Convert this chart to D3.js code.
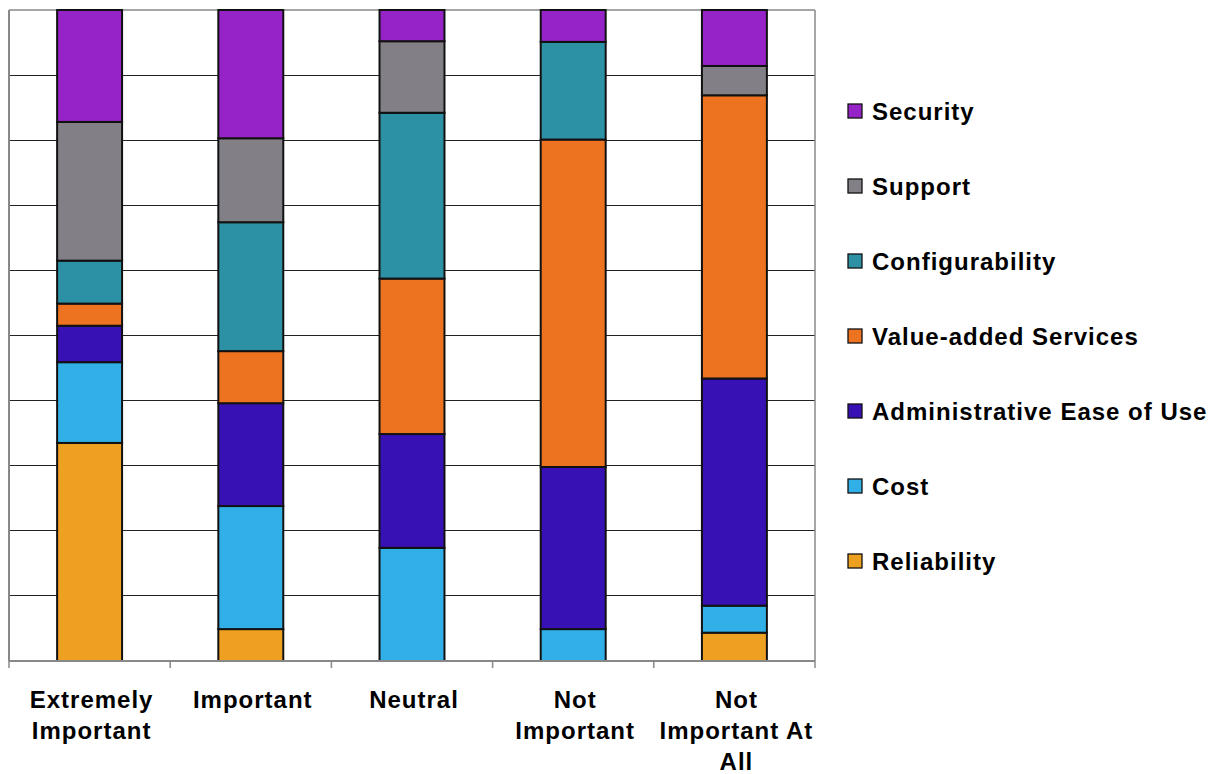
<!DOCTYPE html>
<html>
<head>
<meta charset="utf-8">
<script src="https://cdn.jsdelivr.net/npm/d3@7"></script>
<style>
  html, body { margin: 0; padding: 0; background: #fff; }
  svg { display: block; }
  text { font-family: "Liberation Sans", Arial, sans-serif; font-weight: bold; fill: #000; }
</style>
</head>
<body>
<svg id="chart" width="1219" height="774"></svg>
<script>
// ---- data ----
const categories = ["Extremely Important", "Important", "Neutral", "Not Important", "Not Important At All"];
const categoryLines = [["Extremely", "Important"], ["Important"], ["Neutral"], ["Not", "Important"], ["Not", "Important At", "All"]];
const seriesNames = ["Reliability", "Cost", "Administrative Ease of Use", "Value-added Services", "Configurability", "Support", "Security"];
const seriesColors = ["#EEA020", "#31B0E8", "#3711B3", "#EE7320", "#2C91A4", "#828086", "#9523C8"];
const reliability    = [33.5, 4.9, 0, 0, 4.35];
const cost           = [12.4, 18.9, 17.4, 4.9, 4.15];
const adminEase      = [5.6, 15.8, 17.5, 24.9, 34.9];
const valueAdded     = [3.4, 8.0, 23.9, 50.3, 43.5];
const configurability= [6.6, 19.8, 25.5, 15.0, 0];
const support        = [21.3, 12.9, 11.0, 0, 4.5];
const security       = [17.2, 19.7, 4.8, 4.9, 8.6];
const yTicks = [0, 0.1, 0.2, 0.3, 0.4, 0.5, 0.6, 0.7, 0.8, 0.9, 1.0];

const seriesValues = [reliability, cost, adminEase, valueAdded, configurability, support, security];
const rows = categories.map((c, i) => {
  const r = { category: c };
  seriesNames.forEach((s, j) => r[s] = seriesValues[j][i]);
  return r;
});

// ---- layout ----
const svg = d3.select("#chart");
const plot = { left: 9, right: 815, top: 10, bottom: 661 };

const x = d3.scaleBand().domain(categories).range([plot.left, plot.right]).padding(0);
const y = d3.scaleLinear().domain([0, 1]).range([plot.bottom, plot.top]);
const color = d3.scaleOrdinal().domain(seriesNames).range(seriesColors);

const stack = d3.stack().keys(seriesNames).offset(d3.stackOffsetExpand);
const stacked = stack(rows);

// gridlines
svg.append("g").selectAll("line").data(yTicks.filter(t => t > 0 && t < 1)).join("line")
  .attr("x1", plot.left).attr("x2", plot.right)
  .attr("y1", d => y(d)).attr("y2", d => y(d))
  .attr("stroke", "#222").attr("stroke-width", 1).attr("shape-rendering", "crispEdges");

// frame (top, right)
svg.append("line").attr("x1", plot.left).attr("x2", plot.right).attr("y1", y(1)).attr("y2", y(1))
  .attr("stroke", "#888").attr("stroke-width", 1.5);
svg.append("line").attr("x1", plot.right).attr("x2", plot.right).attr("y1", y(1)).attr("y2", y(0))
  .attr("stroke", "#888").attr("stroke-width", 1.5);

// bars
const barW = x.bandwidth() * 0.403;
svg.append("g").selectAll("g").data(stacked).join("g")
  .attr("fill", d => color(d.key))
  .selectAll("rect").data(d => d.filter(p => p[1] - p[0] > 0)).join("rect")
  .attr("x", d => x(d.data.category) + x.bandwidth() / 2 - barW / 2)
  .attr("width", barW)
  .attr("y", d => y(d[1]))
  .attr("height", d => y(d[0]) - y(d[1]))
  .attr("stroke", "#111").attr("stroke-width", 2);

// left axis
svg.append("line").attr("x1", plot.left).attr("x2", plot.left).attr("y1", y(1)).attr("y2", y(0))
  .attr("stroke", "#888").attr("stroke-width", 2);

// bottom axis with ticks at band boundaries
const xAxis = svg.append("g");
xAxis.append("line").attr("x1", plot.left).attr("x2", plot.right).attr("y1", y(0)).attr("y2", y(0))
  .attr("stroke", "#888").attr("stroke-width", 2);
const boundaries = categories.map(c => x(c)).concat([x(categories[categories.length - 1]) + x.bandwidth()]);
xAxis.selectAll("line.tick").data(boundaries).join("line").attr("class", "tick")
  .attr("x1", d => d).attr("x2", d => d).attr("y1", y(0)).attr("y2", y(0) + 7)
  .attr("stroke", "#888").attr("stroke-width", 1.5);

// category labels
const labels = svg.append("g");
categories.forEach((c, i) => {
  const cx = x(c) + x.bandwidth() / 2 + 2;
  const t = labels.append("text")
    .attr("text-anchor", "middle")
    .attr("font-size", 24)
    .attr("letter-spacing", 1.0)
    .attr("x", cx)
    .attr("y", 708);
  categoryLines[i].forEach((ln, k) => {
    t.append("tspan").attr("x", cx).attr("dy", k === 0 ? 0 : 31).text(ln);
  });
});

// legend (reverse order: Security on top)
const legendOrder = seriesNames.slice().reverse();
const legendY = d3.scalePoint().domain(legendOrder).range([111, 561]);
const legend = svg.append("g").selectAll("g").data(legendOrder).join("g")
  .attr("transform", d => `translate(848, ${legendY(d)})`);
legend.append("rect").attr("x", 0).attr("y", -7).attr("width", 14).attr("height", 14)
  .attr("fill", d => color(d)).attr("stroke", "#111").attr("stroke-width", 1.3);
legend.append("text").attr("x", 24).attr("y", 9).attr("font-size", 24)
  .attr("letter-spacing", 1.0).text(d => d);
</script>
</body>
</html>
